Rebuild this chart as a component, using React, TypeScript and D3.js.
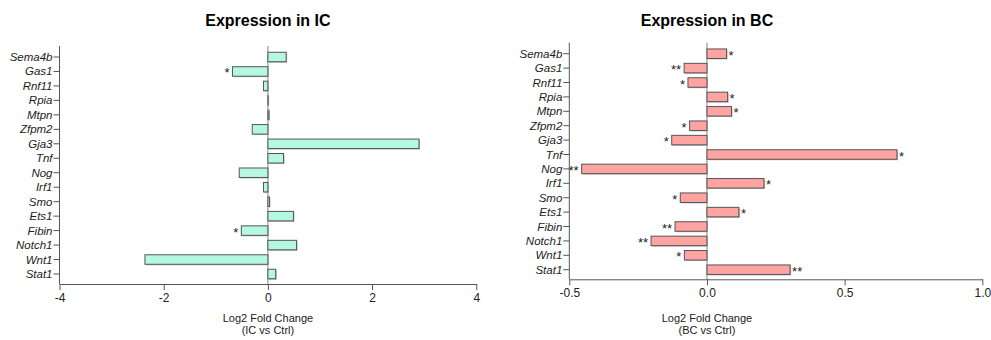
import React, { useEffect, useRef } from "react";
import * as d3 from "d3";

const genes = ["Sema4b", "Gas1", "Rnf11", "Rpia", "Mtpn", "Zfpm2", "Gja3", "Tnf", "Nog", "Irf1", "Smo", "Ets1", "Fibin", "Notch1", "Wnt1", "Stat1"];

const icValues = [0.35, -0.68, -0.085, 0.005, 0.02, -0.3, 2.9, 0.3, -0.55, -0.085, 0.03, 0.49, -0.51, 0.55, -2.36, 0.15];
const icSig = ["", "*", "", "", "", "", "", "", "", "", "", "", "*", "", "", ""];
const icTicks = [-4, -2, 0, 2, 4];

const bcValues = [0.071, -0.083, -0.069, 0.075, 0.089, -0.063, -0.128, 0.69, -0.455, 0.207, -0.097, 0.116, -0.116, -0.203, -0.082, 0.302];
const bcSig = ["*", "**", "*", "*", "*", "*", "*", "*", "**", "*", "*", "*", "**", "**", "*", "**"];
const bcTicks = [-0.5, 0, 0.5, 1.0];

const FONT = "'Liberation Sans', Arial, sans-serif";

type Panel = {
  title: string;
  sub: string;
  values: number[];
  sig: string[];
  ticks: number[];
  domain: [number, number];
  xRange: [number, number];
  yRange: [number, number];
  axisTop: number;
  axisY: number;
  fill: string;
  fmt: (d: number) => string;
};

// plain hyphen instead of d3's unicode minus
const hy = (f: (n: number) => string) => (d: number) => f(d).replace("\u2212", "-");

const panels: Panel[] = [
  {
    title: "Expression in IC", sub: "(IC vs Ctrl)", values: icValues, sig: icSig, ticks: icTicks,
    domain: [-4, 4], xRange: [59.5, 476.3], yRange: [57, 274], axisTop: 46, axisY: 284,
    fill: "#b4f8e2", fmt: hy(d3.format("d")),
  },
  {
    title: "Expression in BC", sub: "(BC vs Ctrl)", values: bcValues, sig: bcSig, ticks: bcTicks,
    domain: [-0.5, 1.0], xRange: [569.3, 982.3], yRange: [53.7, 269.7], axisTop: 42.7, axisY: 279.3,
    fill: "#ffa3a3", fmt: hy(d3.format(".1f")),
  },
];

export default function App() {
  const ref = useRef<SVGSVGElement>(null);

  useEffect(() => {
    const svg = d3.select(ref.current);
    svg.selectAll("*").remove();

    panels.forEach(p => {
      const x = d3.scaleLinear().domain(p.domain).range(p.xRange);
      const y = d3.scalePoint().domain(genes).range(p.yRange);
      const bh = 9.5;
      const g = svg.append("g");
      const x0 = x(0);

      // title
      g.append("text")
        .attr("x", x0).attr("y", 26)
        .attr("text-anchor", "middle")
        .style("font", `bold 16px ${FONT}`)
        .text(p.title);

      // zero line
      g.append("line")
        .attr("x1", x0).attr("x2", x0)
        .attr("y1", p.axisTop).attr("y2", p.axisY)
        .attr("stroke", "#999").attr("stroke-width", 1.2);

      // bar shadows
      g.selectAll("rect.shadow")
        .data(p.values)
        .enter().append("rect")
        .attr("class", "shadow")
        .attr("x", d => Math.min(x(d), x0) + 1)
        .attr("y", (d, i) => (y(genes[i]) as number) - bh / 2 + 1)
        .attr("width", d => Math.abs(x(d) - x0))
        .attr("height", bh)
        .attr("fill", "#bbb");

      // bars
      g.selectAll("rect.bar")
        .data(p.values)
        .enter().append("rect")
        .attr("class", "bar")
        .attr("x", d => Math.min(x(d), x0))
        .attr("y", (d, i) => (y(genes[i]) as number) - bh / 2)
        .attr("width", d => Math.abs(x(d) - x0))
        .attr("height", bh)
        .attr("fill", p.fill)
        .attr("stroke", "#555")
        .attr("stroke-width", 1);

      // significance stars
      g.selectAll("text.sig")
        .data(p.values)
        .enter().append("text")
        .attr("class", "sig")
        .attr("x", d => d >= 0 ? x(d) + 2 : x(d) - 3)
        .attr("y", (d, i) => (y(genes[i]) as number) + 6)
        .attr("text-anchor", d => d >= 0 ? "start" : "end")
        .style("font", `13px ${FONT}`)
        .attr("fill", "#222")
        .text((d, i) => p.sig[i]);

      // y axis
      const yAxis = g.append("g")
        .attr("transform", `translate(${p.xRange[0]},0)`);
      yAxis.append("line")
        .attr("x1", 0).attr("x2", 0)
        .attr("y1", p.axisTop).attr("y2", p.axisY)
        .attr("stroke", "#555");
      yAxis.selectAll("g.tick")
        .data(genes)
        .enter().append("g")
        .attr("transform", d => `translate(0,${y(d)})`)
        .each(function (d) {
          const t = d3.select(this);
          t.append("line").attr("x1", -6).attr("x2", 0).attr("stroke", "#555");
          t.append("text")
            .attr("x", -7).attr("y", 4)
            .attr("text-anchor", "end")
            .style("font", `italic 11.5px ${FONT}`)
            .attr("fill", "#222")
            .text(d);
        });

      // x axis
      const xAxis = g.append("g")
        .attr("transform", `translate(0,${p.axisY})`)
        .call(d3.axisBottom(x).tickValues(p.ticks).tickFormat(p.fmt as any).tickSize(6).tickSizeOuter(0));
      xAxis.select(".domain").attr("stroke", "#555");
      xAxis.selectAll(".tick line").attr("stroke", "#555");
      xAxis.selectAll(".tick text")
        .attr("dy", 0).attr("y", 18)
        .style("font", `12px ${FONT}`)
        .attr("fill", "#222");

      // x title
      g.append("text")
        .attr("x", x0).attr("y", 321.5)
        .attr("text-anchor", "middle")
        .style("font", `11px ${FONT}`)
        .attr("fill", "#222")
        .text("Log2 Fold Change");
      g.append("text")
        .attr("x", x0).attr("y", 334)
        .attr("text-anchor", "middle")
        .style("font", `11px ${FONT}`)
        .attr("fill", "#222")
        .text(p.sub);
    });
  }, []);

  return (
    <svg ref={ref} width={991} height={340}
      style={{ position: "absolute", left: 0, top: 0, background: "#fff" }} />
  );
}
